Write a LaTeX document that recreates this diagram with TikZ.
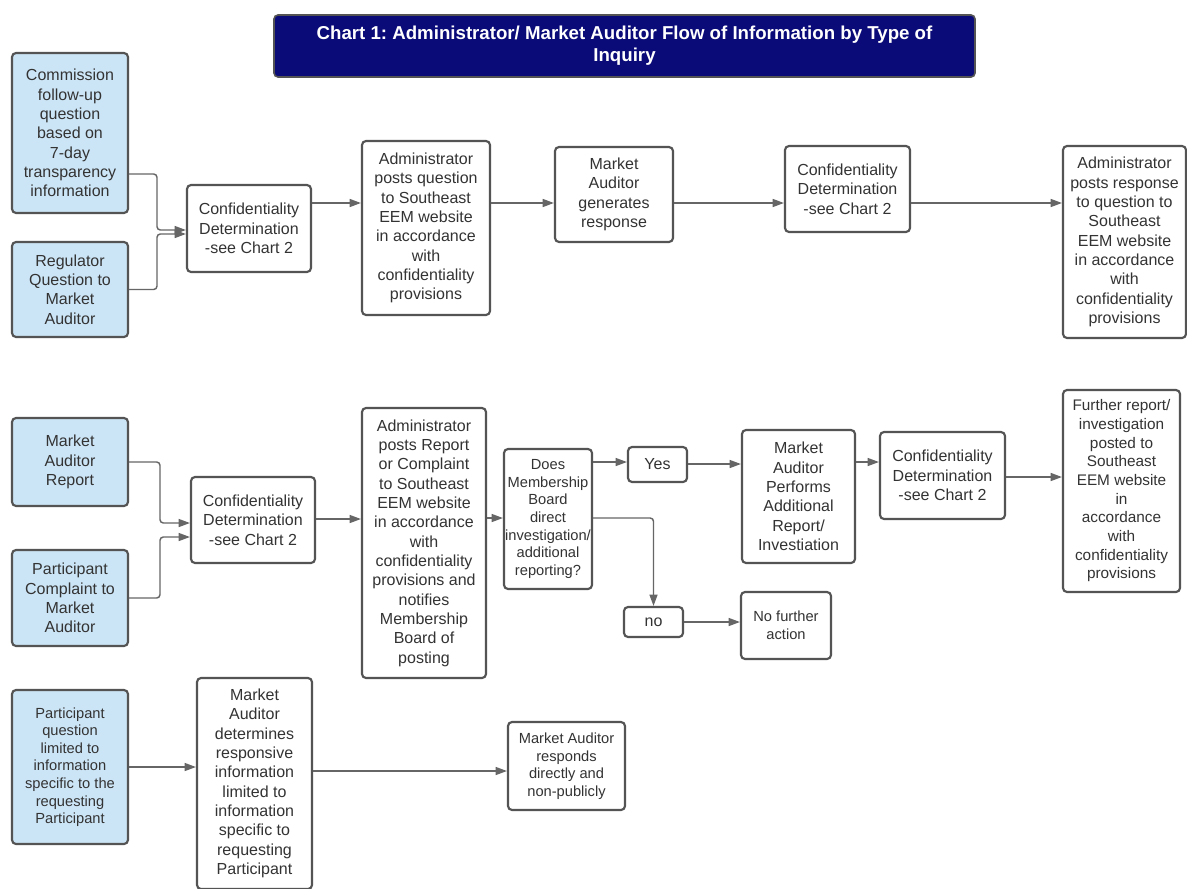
\documentclass[tikz,border=0pt]{standalone}
\usepackage{fontspec}
\setmainfont{Liberation Sans}
\usetikzlibrary{arrows.meta}
\frenchspacing

\newlength{\du}
\setlength{\du}{0.75pt}

\definecolor{boxline}{rgb}{0.330000, 0.330000, 0.330000}
\definecolor{flowgray}{rgb}{0.400000, 0.400000, 0.400000}
\definecolor{srcblue}{rgb}{0.800000, 0.900000, 0.965000}
\definecolor{chartnavy}{rgb}{0.040000, 0.040000, 0.470000}
\definecolor{inktext}{rgb}{0.200000, 0.200000, 0.200000}

\tikzset{
  stepbox/.style={draw=boxline, line width=1.6pt, rounded corners=3pt, fill=white,
    text=inktext, align=center, inner sep=0pt, font=\fontsize{12}{14.5}\selectfont},
  srcbox/.style={stepbox, fill=srcblue},
  smalltext/.style={font=\fontsize{11}{13.2}\selectfont},
  titlebox/.style={draw=boxline, line width=1.2pt, rounded corners=3pt, fill=chartnavy,
    text=white, align=center, inner sep=0pt, font=\fontsize{14}{16.5}\selectfont\bfseries},
  flow/.style={draw=flowgray, line width=1.1pt, rounded corners=2.5pt,
    -{Triangle[length=8.5pt,width=6pt]}},
}

\begin{document}
\begin{tikzpicture}
\pgftransformxscale{1.000000}
\pgftransformyscale{-1.000000}
\useasboundingbox (0\du,0\du) rectangle (1187\du,888\du);
\fill[white] (0\du,0\du) rectangle (1187\du,888\du);

% title
\node[titlebox, minimum width=701\du, minimum height=62\du] (title) at (624.5\du,46\du)
  {Chart 1: Administrator/ Market Auditor Flow of Information by Type of\\Inquiry};

% first row: questions
\node[srcbox, minimum width=116\du, minimum height=160\du] (comq) at (70\du,133\du)
  {Commission\\follow-up\\question\\based on\\7-day\\transparency\\information};
\node[srcbox, minimum width=116\du, minimum height=95\du] (regq) at (70\du,289.5\du)
  {Regulator\\Question to\\Market\\Auditor};
\node[stepbox, minimum width=124\du, minimum height=87\du] (cdA) at (249\du,228.5\du)
  {Confidentiality\\Determination\\-see Chart 2};
\node[stepbox, minimum width=128\du, minimum height=174\du] (postq) at (426\du,228\du)
  {Administrator\\posts question\\to Southeast\\EEM website\\in accordance\\with\\confidentiality\\provisions};
\node[stepbox, minimum width=118\du, minimum height=95\du] (gen) at (614\du,194.5\du)
  {Market\\Auditor\\generates\\response};
\node[stepbox, minimum width=125\du, minimum height=86\du] (cdB) at (847.5\du,189\du)
  {Confidentiality\\Determination\\-see Chart 2};
\node[stepbox, minimum width=123\du, minimum height=192\du] (postr) at (1124.5\du,242\du)
  {Administrator\\posts response\\to question to\\Southeast\\EEM website\\in accordance\\with\\confidentiality\\provisions};

\draw[flow] (comq.east |- 0,174\du) -| (157\du,230\du) -- (cdA.west |- 0,230\du);
\draw[flow] (regq.east) -| (157\du,234\du) -- (cdA.west |- 0,234\du);
\draw[flow] (cdA.east |- 0,203\du) -- (postq.west |- 0,203\du);
\draw[flow] (postq.east |- 0,203\du) -- (gen.west |- 0,203\du);
\draw[flow] (gen.east |- 0,203\du) -- (cdB.west |- 0,203\du);
\draw[flow] (cdB.east |- 0,203\du) -- (postr.west |- 0,203\du);

% second row: reports and complaints
\node[srcbox, minimum width=116\du, minimum height=88\du] (mrep) at (70\du,462\du)
  {Market\\Auditor\\Report};
\node[srcbox, minimum width=116\du, minimum height=96\du] (pcomp) at (70\du,598\du)
  {Participant\\Complaint to\\Market\\Auditor};
\node[stepbox, minimum width=124\du, minimum height=86\du] (cdC) at (253\du,520\du)
  {Confidentiality\\Determination\\-see Chart 2};
\node[stepbox, minimum width=124\du, minimum height=270\du] (postc) at (424\du,543\du)
  {Administrator\\posts Report\\or Complaint\\to Southeast\\EEM website\\in accordance\\with\\confidentiality\\provisions and\\notifies\\Membership\\Board of\\posting};
\node[stepbox, smalltext, minimum width=88\du, minimum height=140\du] (ask) at (548\du,519\du)
  {Does\\Membership\\Board\\direct\\investigation/\\additional\\reporting?};
\node[stepbox, minimum width=59\du, minimum height=35\du] (yes) at (657.5\du,464.5\du) {Yes};
\node[stepbox, minimum width=59\du, minimum height=30\du] (no) at (653.5\du,622\du) {no};
\node[stepbox, minimum width=113\du, minimum height=133\du] (addrep) at (798.5\du,496.5\du)
  {Market\\Auditor\\Performs\\Additional\\Report/\\Investiation};
\node[stepbox, minimum width=125\du, minimum height=87\du] (cdD) at (942.5\du,475.5\du)
  {Confidentiality\\Determination\\-see Chart 2};
\node[stepbox, font=\fontsize{11.5}{14}\selectfont, minimum width=117\du, minimum height=202\du] (further) at (1121.5\du,491\du)
  {Further report/\\investigation\\posted to\\Southeast\\EEM website\\in\\accordance\\with\\confidentiality\\provisions};
\node[stepbox, smalltext, minimum width=90\du, minimum height=67\du] (noact) at (786\du,625.5\du)
  {No further\\action};

\draw[flow] (mrep.east) -| (160\du,523\du) -- (cdC.west |- 0,523\du);
\draw[flow] (pcomp.east) -| (160\du,537\du) -- (cdC.west |- 0,537\du);
\draw[flow] (cdC.east |- 0,519\du) -- (postc.west |- 0,519\du);
\draw[flow] (postc.east |- 0,518\du) -- (ask.west |- 0,518\du);
\draw[flow] (ask.east |- 0,462\du) -- (yes.west |- 0,462\du);
\draw[flow] (yes.east |- 0,464\du) -- (addrep.west |- 0,464\du);
\draw[flow] (addrep.east |- 0,462\du) -- (cdD.west |- 0,462\du);
\draw[flow] (cdD.east |- 0,477\du) -- (further.west |- 0,477\du);
\draw[flow] (ask.east |- 0,518\du) -| (no.north);
\draw[flow] (no.east) -- (noact.west |- no.east);

% third row: participant questions
\node[srcbox, smalltext, minimum width=116\du, minimum height=154\du] (pq) at (70\du,767\du)
  {Participant\\question\\limited to\\information\\specific to the\\requesting\\Participant};
\node[stepbox, minimum width=115\du, minimum height=211\du] (limit) at (254.5\du,783.5\du)
  {Market\\Auditor\\determines\\responsive\\information\\limited to\\information\\specific to\\requesting\\Participant};
\node[stepbox, smalltext, minimum width=117\du, minimum height=88\du] (direct) at (566.5\du,766\du)
  {Market Auditor\\responds\\directly and\\non-publicly};

\draw[flow] (pq.east) -- (limit.west |- pq.east);
\draw[flow] (limit.east |- 0,771\du) -- (direct.west |- 0,771\du);
\end{tikzpicture}
\end{document}
